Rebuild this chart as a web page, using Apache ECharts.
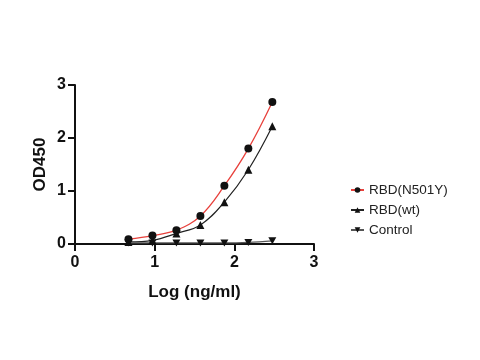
<!DOCTYPE html>
<html><head><meta charset="utf-8">
<script src="https://cdn.jsdelivr.net/npm/echarts@6/dist/echarts.min.js"></script>
<style>html,body{margin:0;padding:0;background:#fff}#c{width:480px;height:360px}</style>
</head><body><div id="c"></div>
<script>
const logConc = [0.671, 0.972, 1.273, 1.574, 1.875, 2.176, 2.477];
const rbdN501Y = [0.09, 0.16, 0.26, 0.53, 1.10, 1.80, 2.68];
const rbdWt = [0.04, 0.07, 0.20, 0.36, 0.79, 1.40, 2.22];
const control = [0.02, 0.02, 0.02, 0.02, 0.02, 0.03, 0.06];
const xTicks = [0, 1, 2, 3];
const yTicks = [0, 1, 2, 3];
const seriesNames = ['RBD(N501Y)', 'RBD(wt)', 'Control'];

const pair = arr => logConc.map((x, i) => [x, arr[i]]);
const inv = 'path://M0,0L10,0L5,9Z';
const font = 'Arial, "Liberation Sans", Helvetica, sans-serif';
const chart = echarts.init(document.getElementById('c'));
chart.setOption({
  animation: false,
  backgroundColor: '#fff',
  grid: {left: 75, right: 166, top: 85, bottom: 116},
  xAxis: {
    type: 'value', min: xTicks[0], max: xTicks[xTicks.length-1], interval: 1,
    name: 'Log (ng/ml)', nameLocation: 'middle', nameGap: 40,
    nameTextStyle: {fontFamily: font, fontWeight: 'bold', fontSize: 17, color: '#111'},
    axisLine: {lineStyle: {color: '#111', width: 2}},
    axisTick: {length: 7, lineStyle: {color: '#111', width: 2}},
    axisLabel: {fontFamily: font, fontWeight: 'bold', fontSize: 16, color: '#111', margin: 11},
    splitLine: {show: false}
  },
  yAxis: {
    type: 'value', min: yTicks[0], max: yTicks[yTicks.length-1], interval: 1,
    name: 'OD450', nameLocation: 'middle', nameGap: 26, nameRotate: 90,
    nameTextStyle: {fontFamily: font, fontWeight: 'bold', fontSize: 17, color: '#111'},
    axisLine: {show: true, lineStyle: {color: '#111', width: 2}},
    axisTick: {show: true, length: 7, lineStyle: {color: '#111', width: 2}},
    axisLabel: {fontFamily: font, fontWeight: 'bold', fontSize: 16, color: '#111', margin: 9},
    splitLine: {show: false}
  },
  legend: {
    orient: 'vertical', left: 350, top: 183, padding: 0, itemGap: 6, itemWidth: 13, itemHeight: 7,
    textStyle: {fontFamily: font, fontSize: 13.5, color: '#222'},
    data: seriesNames
  },
  series: [
    {name: seriesNames[0], type: 'line', smooth: 0.4, data: pair(rbdN501Y), symbol: 'circle', symbolSize: 8,
     lineStyle: {color: '#e8413c', width: 1.3}, itemStyle: {color: '#111'}, z: 3},
    {name: seriesNames[1], type: 'line', smooth: 0.4, data: pair(rbdWt), symbol: 'triangle', symbolSize: 8,
     lineStyle: {color: '#222', width: 1.2}, itemStyle: {color: '#111'}, z: 2},
    {name: seriesNames[2], type: 'line', smooth: 0.4, data: pair(control), symbol: inv, symbolSize: [8, 7],
     lineStyle: {color: '#555', width: 1.2}, itemStyle: {color: '#111'}, z: 2}
  ]
});
</script></body></html>
